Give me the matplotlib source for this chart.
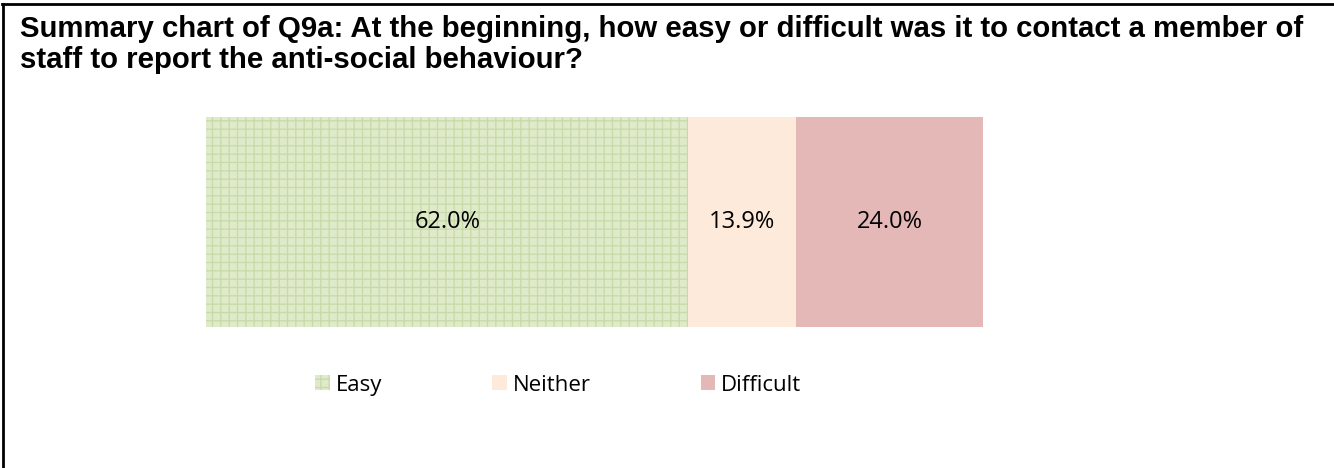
import matplotlib
matplotlib.use('Agg')
import matplotlib.pyplot as plt
from matplotlib.lines import Line2D

# data
categories = ['Easy', 'Neither', 'Difficult']
values = [62.0, 13.9, 24.0]
colors = ['#dfeacb', '#fdeadb', '#e5b8b8']

plt.rcParams['hatch.linewidth'] = 0.9

fig = plt.figure(figsize=(13.34, 4.68), dpi=100)
fig.patch.set_facecolor('white')

# frame on top and left (chart box is cropped)
fig.add_artist(Line2D([0.0025, 0.0025], [0, 0.992], transform=fig.transFigure, color='black', lw=2))
fig.add_artist(Line2D([0.0015, 1.0], [0.992, 0.992], transform=fig.transFigure, color='black', lw=2))

fig.text(0.015, 0.968,
         'Summary chart of Q9a: At the beginning, how easy or difficult was it to contact a member of\n'
         'staff to report the anti-social behaviour?',
         fontsize=21.2, fontweight='bold', family='Liberation Sans', va='top', ha='left',
         linespacing=1.12)

ax = fig.add_axes([0.1544, 0.301, 0.5832, 0.449])
left = 0
handles = []
for cat, v, c in zip(categories, values, colors):
    if cat == 'Easy':
        b = ax.barh(0, v, left=left, height=1.0, color=c, edgecolor='#c8daa6', hatch='++', lw=0, label=cat)
    else:
        b = ax.barh(0, v, left=left, height=1.0, color=c, lw=0, label=cat)
    handles.append(b)
    ax.text(left + v / 2, 0, '%.1f%%' % v, ha='center', va='center', fontsize=17,
            family='Open Sans', color='black')
    left += v

ax.set_xlim(0, 100)
ax.set_ylim(-0.5, 0.5)
ax.axis('off')

fig.legend(handles=handles, labels=categories, loc='center', bbox_to_anchor=(0.4185, 0.177),
           ncol=3, frameon=False, prop={'family': 'Open Sans', 'size': 16},
           handlelength=0.65, handleheight=0.65, handletextpad=0.27, columnspacing=4.95)

fig.savefig('out.png', dpi=100)
